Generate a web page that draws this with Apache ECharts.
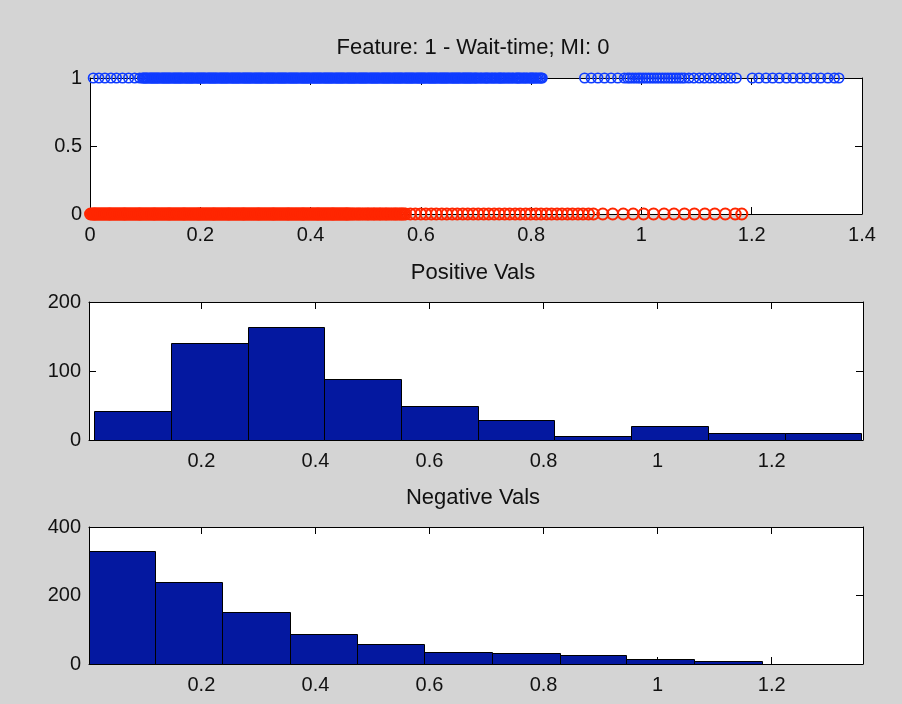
<!DOCTYPE html>
<html><head><meta charset="utf-8">
<script src="https://cdn.jsdelivr.net/npm/echarts@6/dist/echarts.min.js"></script>
<style>html,body{margin:0;padding:0;background:#d4d4d4}#c{width:902px;height:704px}</style>
</head><body><div id="c"></div>
<script>
// ---- Data ----
const titles = ['Feature: 1 - Wait-time; MI: 0', 'Positive Vals', 'Negative Vals'];

// Wait-time values of positive samples (plotted at y = 1)
const posScatterX = [
0.006,0.016,0.027,0.038,0.048,0.059,0.07,0.081,0.09,
0.095,0.099,0.103,0.108,0.112,0.116,0.12,0.124,0.129,0.133,0.137,0.141,0.145,0.15,0.154,0.158,0.162,0.166,0.171,0.175,0.179,0.183,0.187,0.192,0.196,0.2,
0.204,0.208,0.213,0.217,0.221,0.225,0.229,0.234,0.238,0.242,0.246,0.25,0.255,0.259,0.263,0.267,0.271,0.276,0.28,0.284,0.288,0.292,0.297,0.301,0.305,
0.309,0.313,0.318,0.322,0.326,0.33,0.334,0.339,0.343,0.347,0.351,0.355,0.36,0.364,0.368,0.372,0.376,0.381,0.385,0.389,0.393,0.397,0.402,0.406,0.41,
0.414,0.418,0.423,0.427,0.431,0.435,0.439,0.444,0.448,0.452,0.456,0.46,0.465,0.469,0.473,0.477,0.481,0.486,0.49,0.494,0.498,0.502,0.507,0.511,0.515,
0.519,0.523,0.528,0.532,0.536,0.54,0.544,0.549,0.553,0.557,0.561,0.565,0.57,0.574,0.578,0.582,0.586,0.591,0.595,0.599,0.603,0.607,0.612,0.616,0.62,
0.624,0.628,0.633,0.637,0.641,0.645,0.649,0.654,0.658,0.662,0.666,0.67,0.675,0.679,0.683,0.687,0.691,0.696,0.7,
0.097,0.101,0.105,0.11,0.114,0.118,0.122,0.126,0.131,0.135,0.139,0.143,0.147,0.152,0.156,0.16,0.164,0.168,0.173,0.177,0.181,0.185,0.189,0.194,0.198,
0.202,0.206,0.21,0.215,0.219,0.223,0.227,0.231,0.236,0.24,0.244,0.248,0.252,0.257,0.261,0.265,0.269,0.273,0.278,0.282,0.286,0.29,0.294,0.299,0.303,
0.307,0.311,0.315,0.32,0.324,0.328,0.332,0.336,0.341,0.345,0.349,0.353,0.357,0.362,0.366,0.37,0.374,0.378,0.383,0.387,0.391,0.395,0.399,0.404,0.408,
0.412,0.416,0.42,0.425,0.429,0.433,0.437,0.441,0.446,0.45,0.454,0.458,0.462,0.467,0.471,0.475,0.479,0.483,0.488,0.492,0.496,0.5,0.504,0.509,0.513,
0.517,0.521,0.525,0.53,0.534,0.538,0.542,0.546,0.551,0.555,0.559,0.563,0.567,0.572,0.576,0.58,0.584,0.588,0.593,0.597,0.601,0.605,0.609,0.614,0.618,
0.622,0.626,0.63,0.635,0.639,0.643,0.647,0.651,0.656,0.66,0.664,0.668,0.672,0.677,0.681,0.685,0.689,0.693,0.698,
0.702,0.705,0.708,0.71,0.713,0.716,0.718,0.72,0.722,0.725,0.728,0.73,0.733,0.735,0.738,0.741,0.743,0.745,0.747,0.75,0.752,0.755,0.758,0.76,0.763,
0.766,0.768,0.772,0.774,0.776,0.778,0.78,0.783,0.786,0.788,0.791,0.793,0.797,0.799,0.801,0.803,0.805,0.808,0.81,0.813,0.816,0.818,0.82,
0.897,0.909,0.921,0.933,0.945,0.957,0.969,
0.975,0.979,0.984,0.989,0.994,0.998,1.003,1.008,1.013,1.018,1.023,1.028,1.033,1.038,1.043,1.048,1.053,1.058,1.063,1.068,1.073,1.078,
1.086,1.095,1.105,1.114,1.124,1.133,1.143,1.152,1.162,1.172,
1.201,1.213,1.226,1.238,1.25,1.263,1.275,1.288,1.3,1.313,1.325,1.338,1.35,1.358
];

// Wait-time values of negative samples (plotted at y = 0)
const negScatterX = [
0.001,0.006,0.009,0.013,0.017,0.021,0.025,0.029,0.033,0.036,0.04,0.044,0.048,0.052,0.056,0.06,0.063,0.067,0.071,0.075,0.079,0.083,0.087,0.09,0.094,0.098,
0.102,0.106,0.11,0.114,0.117,0.121,0.125,0.129,0.133,0.137,0.141,0.144,0.148,0.152,0.156,0.16,0.164,0.168,0.171,0.175,0.179,0.183,0.187,0.191,0.195,0.198,
0.202,0.206,0.21,0.214,0.218,0.222,0.225,0.229,0.233,0.237,0.241,0.245,0.249,0.252,0.256,0.26,0.264,0.268,0.272,0.276,0.279,0.283,0.287,0.291,0.295,0.299,
0.303,0.306,0.31,0.314,0.318,0.322,0.326,0.33,0.333,0.337,0.341,0.345,0.349,0.353,0.357,0.36,0.364,0.368,0.372,0.376,0.38,0.384,0.387,0.391,0.395,0.399,
0.403,0.407,0.411,0.414,0.418,0.422,0.426,0.43,0.434,0.438,0.441,0.445,0.449,0.453,0.457,0.461,0.465,0.468,
0.004,0.008,0.011,0.015,0.019,0.023,0.027,0.031,0.035,0.038,0.042,0.046,0.05,0.054,0.058,0.062,0.065,0.069,0.073,0.077,0.081,0.085,0.089,0.092,0.096,0.1,
0.104,0.108,0.112,0.116,0.119,0.123,0.127,0.131,0.135,0.139,0.143,0.146,0.15,0.154,0.158,0.162,0.166,0.17,0.173,0.177,0.181,0.185,0.189,0.193,0.197,0.2,
0.204,0.208,0.212,0.216,0.22,0.224,0.227,0.231,0.235,0.239,0.243,0.247,0.251,0.254,0.258,0.262,0.266,0.27,0.274,0.278,0.281,0.285,0.289,0.293,0.297,0.301,
0.305,0.308,0.312,0.316,0.32,0.324,0.328,0.332,0.335,0.339,0.343,0.347,0.351,0.355,0.359,0.362,0.366,0.37,0.374,0.378,0.382,0.386,0.389,0.393,0.397,0.401,
0.405,0.409,0.413,0.416,0.42,0.424,0.428,0.432,0.436,0.44,0.443,0.447,0.451,0.455,0.459,0.463,0.466,0.47,
0.472,0.477,0.483,0.488,0.494,0.5,0.505,0.511,0.516,0.522,0.527,0.533,0.538,0.544,0.55,0.555,0.561,0.566,0.572,
0.475,0.48,0.486,0.491,0.497,0.503,0.508,0.514,0.519,0.525,0.53,0.536,0.541,0.547,0.553,0.558,0.564,0.569,
0.581,0.59,0.6,0.609,0.619,0.628,0.638,0.647,0.657,0.666,0.676,0.685,0.695,0.704,0.714,0.723,0.733,0.742,0.752,0.761,0.771,0.78,0.79,0.799,0.809,0.818,
0.828,0.837,0.847,0.856,0.866,0.875,0.885,0.894,0.904,0.913,
0.93,0.948,0.967,0.985,1.004,1.022,1.041,1.059,1.078,1.096,1.115,1.133,1.152,1.17,1.182
];

// Histograms: bin edges and counts
const posEdges  = [0.012, 0.1465, 0.281, 0.4155, 0.55, 0.6845, 0.819, 0.9535, 1.088, 1.2225, 1.357];
const posCounts = [42, 140, 164, 89, 50, 29, 6, 21, 10, 10];
const negEdges  = [0.003, 0.119, 0.237, 0.356, 0.472, 0.591, 0.710, 0.829, 0.944, 1.063, 1.183];
const negCounts = [329, 239, 152, 88, 58, 35, 31, 26, 15, 10];

// Axis ranges & ticks
const scatterXRange = [0, 1.4];
const scatterXTicks = [0, 0.2, 0.4, 0.6, 0.8, 1, 1.2, 1.4];
const scatterYRange = [0, 1];
const scatterYTicks = [0, 0.5, 1];
const histXRange = [0.003, 1.36];
const histXTicks = [0.2, 0.4, 0.6, 0.8, 1, 1.2];
const posYRange = [0, 200];
const posYTicks = [0, 100, 200];
const negYRange = [0, 400];
const negYTicks = [0, 200, 400];

// ---- Styling ----
const FONT = "'Liberation Sans', Arial, Helvetica, sans-serif";
const TXT = '#111';
const BLUE = '#0f3cff';
const RED = '#ff2600';
const BAR = '#0418a0';

const grids = [
  {left: 90, top: 78, width: 772, height: 136},
  {left: 89, top: 302, width: 774, height: 138},
  {left: 89, top: 527, width: 774, height: 137}
];

const fmt = v => String(Math.round(v * 100) / 100);

function xAxes(gi, range, ticks) {
  const mk = (pos, showLabel) => ({
    type: 'value', gridIndex: gi, position: pos, min: range[0], max: range[1],
    splitLine: {show: false},
    axisLine: {show: true, onZero: false, lineStyle: {color: '#000', width: 1}},
    axisTick: {show: true, inside: true, length: 7, customValues: ticks.slice(), lineStyle: {color: '#000', width: 1}},
    axisLabel: {show: showLabel, customValues: ticks.slice(), margin: 11, color: TXT, fontSize: 20, fontFamily: FONT, formatter: fmt}
  });
  return [mk('bottom', true), mk('top', false)];
}
function yAxes(gi, range, ticks) {
  const mk = (pos, showLabel) => ({
    type: 'value', gridIndex: gi, position: pos, min: range[0], max: range[1],
    splitLine: {show: false},
    axisLine: {show: true, onZero: false, lineStyle: {color: '#000', width: 1}},
    axisTick: {show: true, inside: true, length: 7, customValues: ticks.slice(), lineStyle: {color: '#000', width: 1}},
    axisLabel: {show: showLabel, customValues: ticks.slice(), margin: 8, color: TXT, fontSize: 20, fontFamily: FONT, formatter: fmt}
  });
  return [mk('left', true), mk('right', false)];
}

function histSeries(gi, edges, counts) {
  return {
    type: 'custom', xAxisIndex: gi * 2, yAxisIndex: gi * 2,
    data: counts.map((c, i) => [edges[i], edges[i + 1], c]),
    encode: {x: [0, 1], y: 2},
    renderItem(params, api) {
      const p0 = api.coord([api.value(0), api.value(2)]);
      const p1 = api.coord([api.value(1), 0]);
      const x0 = Math.round(p0[0]) + 0.5, x1 = Math.round(p1[0]) + 0.5;
      const y0 = Math.round(p0[1]) + 0.5, y1 = Math.round(p1[1]) + 0.5;
      return {type: 'rect', shape: {x: x0, y: y0, width: x1 - x0, height: y1 - y0},
        style: {fill: BAR, stroke: '#000', lineWidth: 1}};
    }
  };
}

const titleY = [48, 273, 497.5];

const option = {
  animation: false,
  backgroundColor: '#d4d4d4',
  grid: grids.map(g => Object.assign({containLabel: false, show: true, backgroundColor: '#fff', borderWidth: 0}, g)),
  xAxis: [].concat(xAxes(0, scatterXRange, scatterXTicks), xAxes(1, histXRange, histXTicks), xAxes(2, histXRange, histXTicks)),
  yAxis: [].concat(yAxes(0, scatterYRange, scatterYTicks), yAxes(1, posYRange, posYTicks), yAxes(2, negYRange, negYTicks)),
  graphic: titles.map((t, i) => ({
    type: 'text', x: 473, y: titleY[i], silent: true,
    style: {text: t, fontSize: 22, fontFamily: FONT, fill: TXT, align: 'center', verticalAlign: 'middle'}
  })),
  series: [
    {
      type: 'scatter', xAxisIndex: 0, yAxisIndex: 0, clip: false, silent: true,
      symbol: 'circle', symbolSize: 9.5, progressive: 0,
      itemStyle: {color: 'rgba(0,0,0,0)', borderColor: BLUE, borderWidth: 1.7, opacity: 1},
      data: posScatterX.map(x => [x, 1])
    },
    {
      type: 'scatter', xAxisIndex: 0, yAxisIndex: 0, clip: false, silent: true,
      symbol: 'circle', symbolSize: 11, progressive: 0,
      itemStyle: {color: 'rgba(0,0,0,0)', borderColor: RED, borderWidth: 2, opacity: 1},
      data: negScatterX.map(x => [x, 0])
    },
    histSeries(1, posEdges, posCounts),
    histSeries(2, negEdges, negCounts)
  ]
};

const chart = echarts.init(document.getElementById('c'), null, {renderer: 'canvas'});
chart.setOption(option);
</script>
</body></html>
